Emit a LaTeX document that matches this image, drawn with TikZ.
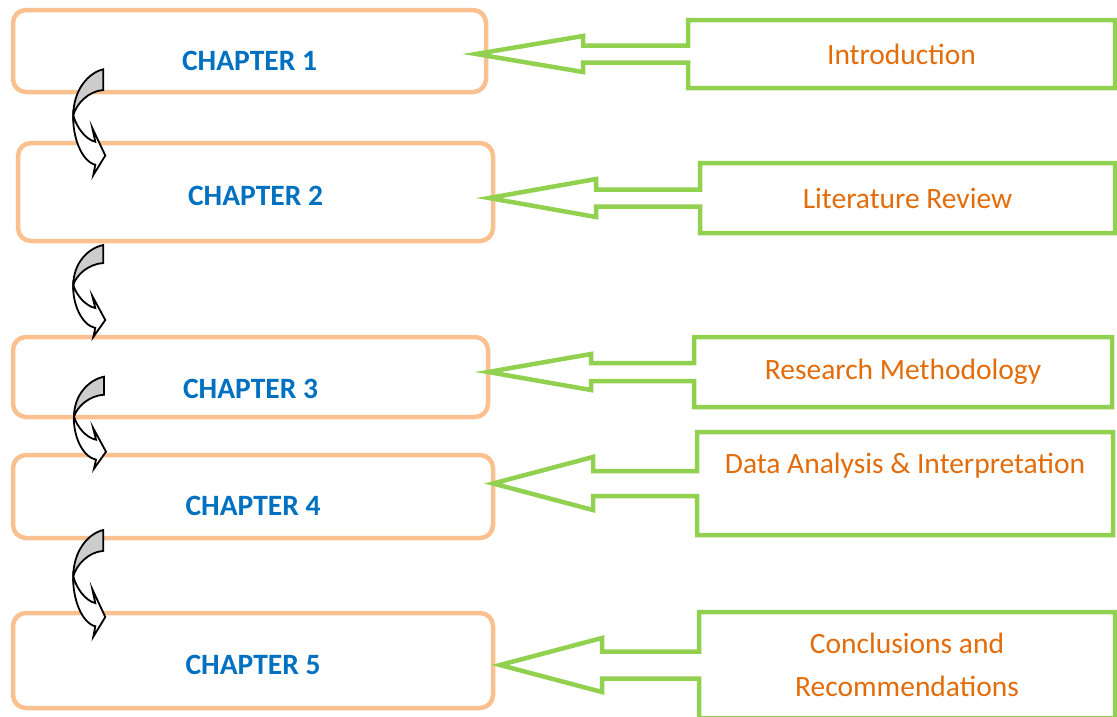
\documentclass[tikz,border=0pt]{standalone}
\usepackage{fontspec}
\setmainfont{Carlito}
\usepackage{tikz}
\usetikzlibrary{calc}

\definecolor{chapblue}{HTML}{0070C0}
\definecolor{topicorange}{HTML}{E36C0A}
\definecolor{boxorange}{HTML}{FAC090}
\definecolor{calloutgreen}{HTML}{92D050}

\begin{document}
\begin{tikzpicture}[x=1pt, y=1pt, node distance=120pt, auto]

\tikzstyle{chapter} = [rectangle, rounded corners=13pt, minimum width=475pt, minimum height=82pt, inner sep=0pt, outer sep=0pt, text depth=0pt, draw=boxorange, line width=4.5pt, text=chapblue, font=\fontsize{29.5}{35}\selectfont\bfseries]
\tikzstyle{topic} = [rectangle, minimum width=416pt, minimum height=70pt, inner sep=0pt, outer sep=0pt, align=center, text=topicorange, font=\fontsize{29.5}{43}\selectfont]
\tikzstyle{callout} = [draw=calloutgreen, line width=4.5pt]
\tikzstyle{turnback} = [fill=gray!40, draw=black, line width=1.8pt]
\tikzstyle{turnfront} = [fill=white, draw=black, line width=1.8pt]
\tikzset{chaparrow/.pic={
  \filldraw [turnback] (0,0) .. controls (-15,-3) and (-30,-18) .. (-30,-40) .. controls (-27,-30) and (-15,-19) .. (0,-18) -- cycle;
  \filldraw [turnfront] (-30,-40) .. controls (-31,-58) and (-22,-80) .. (-8,-83) -- (-10,-92) -- (2,-75) -- (-11,-51) -- (-8,-63) .. controls (-18,-61) and (-27,-50) .. (-30,-40) -- cycle;
}}

\useasboundingbox (0,0) rectangle (1117,-716);

\node (ch1) [chapter, minimum width=473pt, text height=38pt] at (249.5,-51) {CHAPTER 1};
\node (ch2) [chapter, below of=ch1, xshift=6pt, yshift=-21pt, minimum height=98pt, text height=26pt] {CHAPTER 2};
\node (ch3) [chapter, below of=ch2, xshift=-5pt, yshift=-65pt, minimum height=80pt, text height=42pt] {CHAPTER 3};
\node (ch4) [chapter, below of=ch3, xshift=2.5pt, yshift=0.5pt, minimum width=480pt, minimum height=83pt, text height=38pt] {CHAPTER 4};
\node (ch5) [chapter, below of=ch4, yshift=-44pt, minimum width=480pt, minimum height=95pt, text height=27pt] {CHAPTER 5};

\node (t1) [topic, right of=ch1, xshift=532pt, yshift=-3pt, minimum width=427pt, minimum height=68pt] {Introduction};
\node (t2) [topic, right of=ch2, xshift=532pt, yshift=-6pt, minimum width=415pt] {Literature Review};
\node (t3) [topic, right of=ch3, xshift=532.5pt, yshift=5pt, minimum width=418pt] {Research Methodology};
\node (t4) [topic, right of=ch4, xshift=532pt, yshift=13pt, minimum height=103pt, text height=19pt, text depth=39pt] {Data Analysis \& Interpretation};
\node (t5) [topic, right of=ch5, xshift=534pt, yshift=-4.5pt, minimum height=106pt] {Conclusions and\\Recommendations};

\draw [callout] ($(t1.west)+(0,8.5)$) |- (t1.north east) |- (t1.south west) -- ($(t1.west)+(0,-8.5)$) -- ++(-105,0) -- ++(0,-9.5) -- ($(ch1.east |- t1.west)+(-10,0)$) -- ($(t1.west)+(-105,18)$) -- ++(0,-9.5) -- cycle;
\draw [callout] ($(t2.west)+(0,8.5)$) |- (t2.north east) |- (t2.south west) -- ($(t2.west)+(0,-8.5)$) -- ++(-104,0) -- ++(0,-10.5) -- ($(ch2.east |- t2.west)+(-4,0)$) -- ($(t2.west)+(-104,19)$) -- ++(0,-10.5) -- cycle;
\draw [callout] ($(t3.west)+(0,9)$) |- (t3.north east) |- (t3.south west) -- ($(t3.west)+(0,-9)$) -- ++(-103,0) -- ++(0,-9) -- ($(ch3.east |- t3.west)+(0,0)$) -- ($(t3.west)+(-103,18)$) -- ++(0,-9) -- cycle;
\draw [callout] ($(t4.west)+(0,12.5)$) |- (t4.north east) |- (t4.south west) -- ($(t4.west)+(0,-12.5)$) -- ++(-104,0) -- ++(0,-14) -- ($(ch4.east |- t4.west)+(0,0)$) -- ($(t4.west)+(-104,26.5)$) -- ++(0,-14) -- cycle;
\draw [callout] ($(t5.west)+(0,13.5)$) |- (t5.north east) |- (t5.south west) -- ($(t5.west)+(0,-13.5)$) -- ++(-97,0) -- ++(0,-13.5) -- ($(ch5.east |- t5.west)+(7,0)$) -- ($(t5.west)+(-97,27)$) -- ++(0,-13.5) -- cycle;

\pic [yscale=1.15] at ($(ch1.south west)+(90.3,22.7)$) {chaparrow};
\pic at ($(ch2.south west)+(85.3,-4)$) {chaparrow};
\pic at ($(ch3.south west)+(91,40.3)$) {chaparrow};
\pic [yscale=1.16] at ($(ch4.south west)+(90.3,8)$) {chaparrow};
\end{tikzpicture}
\end{document}
